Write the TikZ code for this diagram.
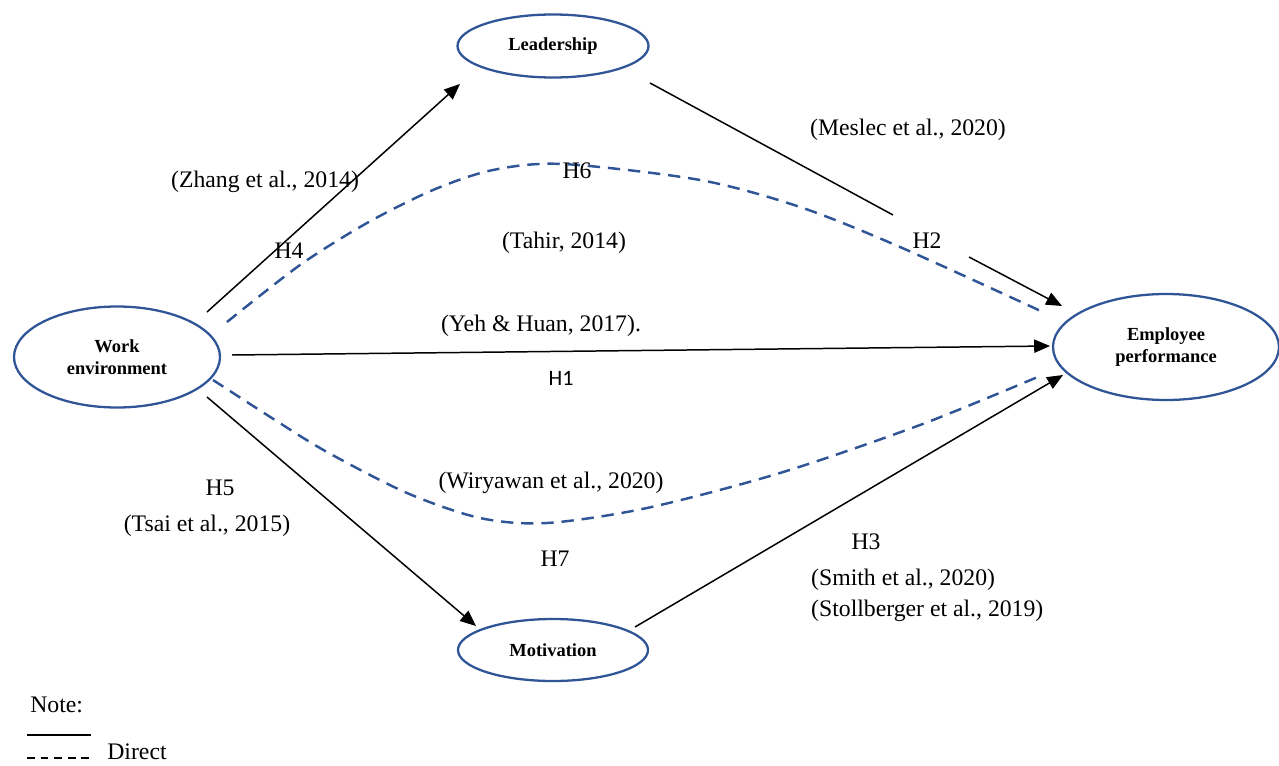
\documentclass[tikz,border=0pt]{standalone}
\usepackage{fontspec}
\setmainfont{Liberation Serif}
\newfontfamily\carlito{Carlito}
\usepackage{tikz}
\usetikzlibrary{arrows.meta}
\usetikzlibrary{shapes}
\definecolor{varblue}{RGB}{47,85,151}

\begin{document}
\begin{tikzpicture}[
    var/.style={draw=varblue, line width=1.3pt, ellipse, inner sep=0pt, align=center,
                font=\fontsize{10.5}{12.5}\selectfont\bfseries},
    cite/.style={font=\fontsize{13.5}{16}\selectfont},
    link/.style={line width=0.85pt, -{Triangle[length=9pt,width=7.5pt]}},
    direct/.style={draw=varblue, line width=1.4pt, dash pattern=on 7pt off 4.5pt}]
            \useasboundingbox (0,0) rectangle (25.58,-15.3);

            % variables
            \draw (11.06,-0.92) node[var, minimum width=3.82cm, minimum height=1.26cm] (lead) {Leadership};
            \draw (2.34,-7.14) node[var, minimum width=4.12cm, minimum height=2.02cm]  (work) {Work\\environment};
            \draw (23.32,-6.94) node[var, minimum width=4.52cm, minimum height=2.12cm] (emp) {Employee\\performance};
            \draw (11.06,-13.0) node[var, minimum width=3.8cm, minimum height=1.24cm]  (mot) {Motivation};

            % ends of the arrows
            \coordinate (wl) at (4.14,-6.24);   \coordinate (lw) at (9.20,-1.68);
            \coordinate (le) at (13.0,-1.66);   \coordinate (el) at (21.24,-6.12);
            \coordinate (ha) at (17.86,-4.30);  \coordinate (hb) at (19.38,-5.14);
            \coordinate (we) at (4.64,-7.10);   \coordinate (ew) at (21.0,-6.92);
            \coordinate (wm) at (4.14,-7.94);   \coordinate (mw) at (9.52,-12.52);
            \coordinate (me) at (12.70,-12.54); \coordinate (em) at (21.26,-7.50);

            \draw[link] (wl) -- (lw);
            \draw[line width=0.85pt] (le) -- (ha);
            \draw[link] (hb) -- (el);
            \draw[link] (we) -- (ew);
            \draw[link] (wm) -- (mw);
            \draw[link] (me) -- (em);

            % mediated paths
            \draw[direct] plot[smooth] coordinates {(4.54,-6.44) (6.0,-5.3) (7.34,-4.46) (8.66,-3.8)
                (9.86,-3.4) (11.26,-3.28) (14.0,-3.6) (16.0,-4.14) (18.0,-4.94) (20.9,-6.26)};
            \draw[direct] plot[smooth] coordinates {(4.26,-7.6) (5.5,-8.4) (6.54,-9.04) (8.14,-9.86)
                (9.6,-10.36) (10.94,-10.46) (12.94,-10.16) (15.6,-9.46) (18.4,-8.5) (20.8,-7.52)};

            % labels
            \node[cite] (c2) at (18.16,-2.6)  {(Meslec et al., 2020)};
            \node[cite] (c4) at (5.3,-3.64)   {(Zhang et al., 2014)};
            \node[cite] (h6) at (11.54,-3.42) {H6};
            \node[cite] (h4) at (5.78,-5.02)  {H4};
            \node[cite] (c6) at (11.28,-4.86) {(Tahir, 2014)};
            \node[cite] (h2) at (18.54,-4.82) {H2};
            \node[cite] (c1) at (10.82,-6.52) {(Yeh \& Huan, 2017).};
            \node[cite, font=\carlito\fontsize{12.5}{15}\selectfont] (h1) at (11.22,-7.56) {H1};
            \node[cite] (c7) at (11.02,-9.66) {(Wiryawan et al., 2020)};
            \node[cite] (h5) at (4.4,-9.76)   {H5};
            \node[cite] (c5) at (4.14,-10.52) {(Tsai et al., 2015)};
            \node[cite] (h7) at (11.1,-11.18) {H7};
            \node[cite] (h3) at (17.32,-10.84) {H3};
            \node[cite, anchor=west] (c3a) at (16.1,-11.6)  {(Smith et al., 2020)};
            \node[cite, anchor=west] (c3b) at (16.1,-12.22) {(Stollberger et al., 2019)};

            % note
            \node[cite, anchor=west, inner sep=0pt] (note) at (0.6,-14.1) {Note:};
            \coordinate (sa) at (0.54,-14.7);  \coordinate (sb) at (1.82,-14.7);
            \coordinate (da) at (0.54,-15.16); \coordinate (db) at (1.82,-15.16);
            \draw[line width=0.85pt] (sa) -- (sb);
            \draw[line width=0.85pt, dash pattern=on 4.5pt off 3.2pt] (da) -- (db);
            \node[cite, anchor=west, inner sep=0pt] (dir) at (2.14,-15.04) {Direct};

\end{tikzpicture}
\end{document}
